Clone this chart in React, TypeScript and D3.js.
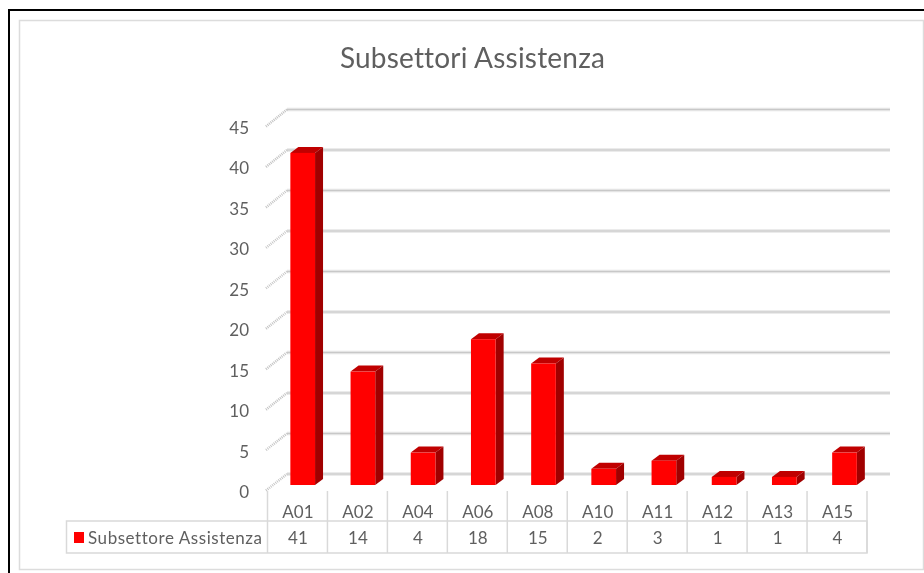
import React from "react";
import * as d3 from "d3";

const categories = ["A01", "A02", "A04", "A06", "A08", "A10", "A11", "A12", "A13", "A15"];
const values = [41, 14, 4, 18, 15, 2, 3, 1, 1, 4];
const yTicks = [0, 5, 10, 15, 20, 25, 30, 35, 40, 45];
const seriesName = "Subsettore Assistenza";
const title = "Subsettori Assistenza";

const width = 924;
const height = 573;
const font = "Lato, 'Open Sans', sans-serif";
const textColor = "#5f5f5f";
const depthX = 8;
const depthY = 6;

export default function App() {
  // three y scales: back wall, tick labels on the front edge, and bar fronts
  const yBack = d3.scaleLinear().domain([0, 45]).range([474, 109.5]);
  const yFront = d3.scaleLinear().domain([0, 45]).range([491, 127]);
  const yBar = d3.scaleLinear().domain([0, 45]).range([485, 120.5]);
  // table columns and the bars sit on slightly different bands
  const xTable = d3.scaleBand().domain(categories).range([267.5, 867]);
  const xBar = d3.scaleBand().domain(categories).range([272.6, 874.6]).paddingInner(0.59).paddingOuter(0.295);
  const barW = xBar.bandwidth();

  return (
    <svg
      width={width}
      height={height}
      style={{ position: "absolute", left: 0, top: 0, background: "#fff" }}
    >
      <defs>
        <filter id="soft" x="-5%" y="-5%" width="110%" height="110%">
          <feGaussianBlur stdDeviation="0.45" />
        </filter>
        <filter id="softText" x="-5%" y="-5%" width="110%" height="110%">
          <feGaussianBlur stdDeviation="0.3" />
        </filter>
      </defs>

      {/* frames */}
      <path d={`M9 573V10H${width}`} fill="none" stroke="#000" strokeWidth={2} />
      <rect x={19.5} y={20.5} width={904} height={549} fill="#fff" stroke="#dcdcdc" strokeWidth={1.5} />

      <g filter="url(#softText)">
        <text
          x={472.5}
          y={68}
          textAnchor="middle"
          fontFamily={font}
          fontSize={28}
          letterSpacing={0.2}
          fill={textColor}
        >
          {title}
        </text>
      </g>

      {/* grid: back wall lines and dotted side wall diagonals */}
      <g filter="url(#soft)">
        {yTicks.map((t) => (
          <g key={t}>
            <line x1={287} x2={890} y1={yBack(t)} y2={yBack(t)} stroke="#e4e4e4" strokeWidth={3.6} />
            <line x1={287} x2={890} y1={yBack(t)} y2={yBack(t)} stroke="#c8c8c8" strokeWidth={1} />
            <line
              x1={266}
              x2={287}
              y1={yFront(t) - 0.5}
              y2={yBack(t)}
              stroke="#c4c4c4"
              strokeWidth={2.6}
              strokeDasharray="1 1"
            />
          </g>
        ))}
      </g>

      <g filter="url(#softText)">
        {yTicks.map((t) => (
          <text
            key={t}
            x={249}
            y={yFront(t) + 7}
            textAnchor="end"
            fontFamily={font}
            fontSize={17}
            fill={textColor}
          >
            {t}
          </text>
        ))}
      </g>

      {/* bars */}
      <g filter="url(#soft)">
        {categories.map((c, i) => {
          const x0 = xBar(c)!;
          const x1 = x0 + barW;
          const top = yBar(values[i]);
          const base = yBar(0);
          return (
            <g key={c}>
              <path
                d={`M${x0} ${top}L${x0 + depthX} ${top - depthY}H${x1 + depthX}L${x1} ${top}Z`}
                fill="#c00000"
              />
              <path
                d={`M${x1} ${top}L${x1 + depthX} ${top - depthY}V${base - depthY}L${x1} ${base}Z`}
                fill="#a00000"
              />
              <rect x={x0} y={top} width={barW} height={base - top} fill="#ff0000" />
            </g>
          );
        })}
      </g>

      {/* data table */}
      <g stroke="#d9d9d9" strokeWidth={1.5} fill="none">
        <path d={`M66.5 521H867V553H66.5Z`} />
        {categories.map((c) => (
          <line key={c} x1={xTable(c)} x2={xTable(c)} y1={491} y2={553} />
        ))}
        <line x1={867} x2={867} y1={491} y2={553} />
      </g>
      <rect x={74} y={532} width={10} height={11} fill="#ff0000" />
      <g filter="url(#softText)">
        <text x={88} y={544} fontFamily={font} fontSize={17} letterSpacing={0.55} fill={textColor}>
          {seriesName}
        </text>
        {categories.map((c, i) => {
          const cx = xTable(c)! + xTable.bandwidth() / 2 + 0.5;
          return (
            <g key={c} fontFamily={font} fontSize={17} fill={textColor} textAnchor="middle">
              <text x={cx} y={517.5}>
                {c}
              </text>
              <text x={cx} y={544}>
                {values[i]}
              </text>
            </g>
          );
        })}
      </g>
    </svg>
  );
}
